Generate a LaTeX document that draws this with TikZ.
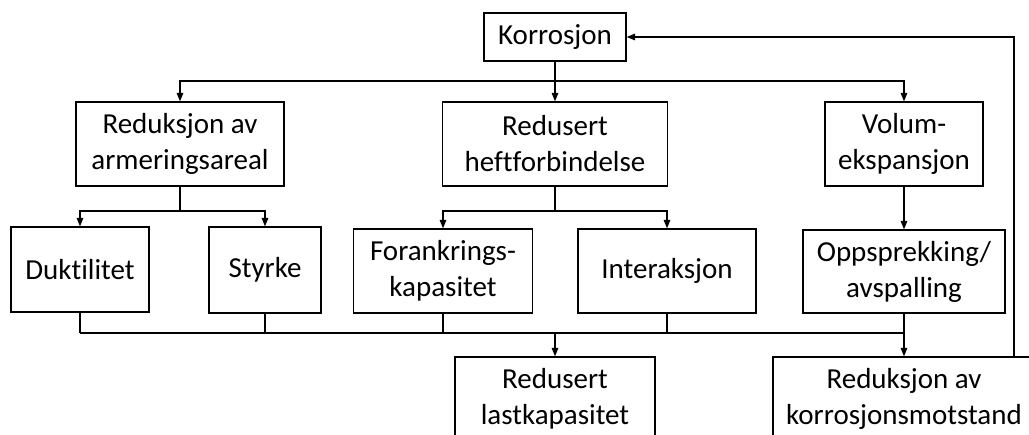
\documentclass[tikz,border=0pt]{standalone}
\usepackage{fontspec}
\setmainfont[Ligatures=NoCommon]{Carlito}
\usepackage{tikz}
\usetikzlibrary{arrows.meta,calc,positioning}

\begin{document}
\begin{tikzpicture}[scale=1,
  box/.style={draw, line width=0.7pt, align=center, inner sep=0pt,
    font=\fontsize{16.5}{20.5}\selectfont},
  arr/.style={line width=0.7pt, -{Triangle[length=1.7mm,width=1.3mm]}},
  ln/.style={line width=0.7pt}]
  \useasboundingbox (0,0) rectangle (20.58,-8.68);
  % Top level
  \node[box, minimum width=2.84cm, minimum height=0.96cm] (kor) at (11.10,-0.74) {Korrosjon};
  \node[box, minimum width=4.16cm, minimum height=1.68cm] (arm) at (3.60,-2.88) {Reduksjon av\\armeringsareal};
  \node[box, minimum width=4.50cm, minimum height=1.68cm] (heft) at (11.10,-2.88) {Redusert\\heftforbindelse};
  \node[box, minimum width=3.16cm, minimum height=1.68cm] (vol) at (18.08,-2.88) {Volum-\\ekspansjon};
  % Second level
  \node[box, minimum width=2.76cm, minimum height=1.70cm] (dukt) at (1.60,-5.39) {Duktilitet};
  \node[box, minimum width=2.24cm, minimum height=1.72cm] (styrke) at (5.30,-5.40) {Styrke};
  \node[box, minimum width=3.58cm, minimum height=1.68cm] (forank) at (8.86,-5.42) {Forankrings-\\kapasitet};
  \node[box, minimum width=3.56cm, minimum height=1.68cm] (inter) at (13.34,-5.42) {Interaksjon};
  \node[box, minimum width=4.04cm, minimum height=1.66cm] (opps) at (18.08,-5.43) {Oppsprekking/\\avspalling};
  % Bottom level
  \node[box, minimum width=4.00cm, minimum height=1.68cm] (last) at (11.10,-7.98) {Redusert\\lastkapasitet};
  \node[box, minimum width=5.24cm, minimum height=1.68cm] (motst) at (18.08,-7.98) {Reduksjon av\\korrosjonsmotstand};
  % Branch points
  \coordinate (s1) at (11.10,-1.62);
  \coordinate (s2) at (3.60,-4.22);
  \coordinate (s3) at (11.10,-4.22);
  \coordinate (m) at (11.10,-6.66);
  \coordinate (fb) at (20.28,-0.70);
  % Korrosjon to first level
  \draw[arr] (kor) -- (heft);
  \draw[arr] (s1) -| (arm);
  \draw[arr] (s1) -| (vol);
  % First to second level
  \draw[ln] (arm) -- (s2);
  \draw[arr] (s2) -| (dukt);
  \draw[arr] (s2) -| (styrke);
  \draw[ln] (heft) -- (s3);
  \draw[arr] (s3) -| (forank);
  \draw[arr] (s3) -| (inter);
  \draw[arr] (vol) -- (opps);
  % Collecting line
  \foreach \n in {dukt,styrke,forank,inter}
    \draw[ln] (\n.south) -- (\n.south |- m);
  \draw[ln] (dukt.south |- m) -- (opps.south |- m);
  \draw[arr] (last |- m) -- (last);
  \draw[arr] (opps) -- (motst);
  % Feedback
  \draw[arr] (fb |- motst.north) |- (kor.east);
\end{tikzpicture}
\end{document}
